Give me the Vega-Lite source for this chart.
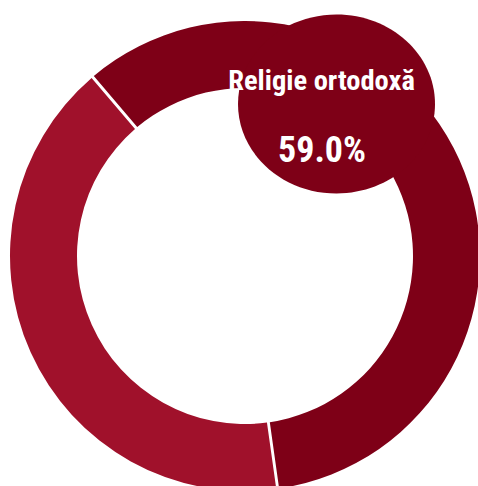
{
  "$schema": "https://vega.github.io/schema/vega-lite/v6.json",
  "width": 490,
  "height": 512,
  "autosize": {"type": "none"},
  "padding": 0,
  "background": "white",
  "config": {"view": {"stroke": null}},
  "data": {"values": [
    {"categorie": "Religie ortodoxă", "pondere": 0.59},
    {"categorie": "Alte religii", "pondere": 0.41}
  ]},
  "layer": [
    {
      "mark": {"type": "arc", "outerRadius": 235, "innerRadius": 168, "padAngle": 0.01},
      "encoding": {
        "theta": {"field": "pondere", "type": "quantitative", "stack": true, "scale": {"range": [-0.705, 5.578]}},
        "order": {"field": "pondere", "sort": "descending"},
        "color": {"field": "categorie", "type": "nominal", "legend": null,
          "scale": {"domain": ["Religie ortodoxă", "Alte religii"], "range": ["#7E0017", "#A0112B"]}}
      }
    },
    {
      "transform": [{"filter": "datum.categorie === 'Religie ortodoxă'"}],
      "mark": {"type": "point", "shape": "M -1 0 A 1 0.908 0 1 0 1 0 A 1 0.908 0 1 0 -1 0 Z", "filled": true, "opacity": 1, "color": "#7E0017", "size": 38809, "xOffset": 91.5, "yOffset": -152},
      "encoding": {}
    },
    {
      "transform": [{"filter": "datum.categorie === 'Religie ortodoxă'"}],
      "mark": {"type": "text", "font": "'Roboto Condensed', 'DejaVu Sans Condensed', sans-serif", "fontWeight": "bold", "fontSize": 28.5, "color": "white", "align": "center", "baseline": "middle", "xOffset": 76.5, "yOffset": -175},
      "encoding": {"text": {"field": "categorie"}}
    },
    {
      "transform": [{"filter": "datum.categorie === 'Religie ortodoxă'"}],
      "mark": {"type": "text", "font": "'Roboto Condensed', 'DejaVu Sans Condensed', sans-serif", "fontWeight": "bold", "fontSize": 36, "color": "white", "align": "center", "baseline": "middle", "xOffset": 77, "yOffset": -105},
      "encoding": {"text": {"field": "pondere", "format": ".1%"}}
    }
  ]
}
